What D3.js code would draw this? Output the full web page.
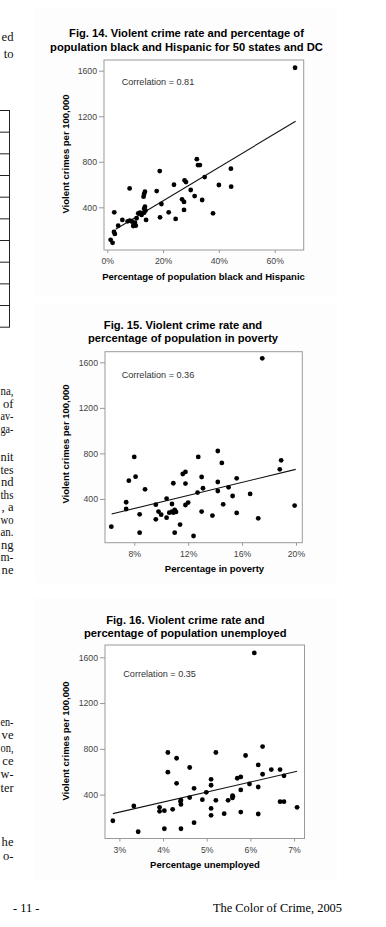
<!DOCTYPE html>
<html>
<head>
<meta charset="utf-8">
<script src="https://cdn.jsdelivr.net/npm/d3@7"></script>
<style>
	body { margin: 0; background: #fff; }
	svg { display: block; }
	.tick text { font-family: 'Liberation Sans', Arial, sans-serif; font-size: 8.7px; fill: #444; }
	.tick line { stroke: #999; }
</style>
</head>
<body>
<svg id="page" width="386" height="927"></svg>
<script>

// ---- data ----
const crimeTicks = [400, 800, 1200, 1600];

// Fig. 14: percentage black and Hispanic vs violent crimes per 100,000
const fig14Pct = [67.3, 32.1, 32.5, 33.2, 44.3, 18.8, 34.9, 27.7, 28.2, 23.9, 40.0, 44.4, 8.0, 29.9, 17.7, 13.5, 13.2,
	13.0, 31.3, 26.8, 27.5, 34.0, 19.4, 13.5, 13.2, 13.7, 27.5, 2.5, 22.0, 37.9, 11.1, 11.7, 13.2, 10.5, 18.9, 5.4,
	13.9, 24.5, 7.3, 8.1, 8.9, 9.9, 9.6, 9.3, 10.2, 3.9, 2.4, 2.7, 1.2, 1.9, 12.3];
const fig14Crime = [1626, 823, 771, 771, 739, 718, 666, 637, 622, 598, 596, 581, 566, 552, 543, 537, 517,
	493, 499, 470, 447, 464, 429, 406, 388, 371, 377, 356, 356, 347, 347, 353, 353, 304, 312, 289,
	289, 298, 277, 283, 274, 266, 254, 236, 239, 239, 184, 166, 114, 88, 333];
const fig14Fit = [[3.0, 207], [67.5, 1156]];
const fig14XTicks = [0, 20, 40, 60];

// Fig. 15: percentage in poverty
const fig15Pov = [17.5, 14.2, 8.0, 12.75, 14.5, 18.9, 18.8, 11.6, 11.8, 8.1, 13.0, 7.6, 15.6, 10.9, 11.8, 14.2, 15.0,
	13.1, 8.8, 12.7, 14.2, 15.3, 16.6, 10.4, 7.4, 7.4, 9.6, 10.8, 12.0, 11.8, 14.6, 8.4, 9.8, 10.0, 10.4, 10.6,
	10.8, 10.9, 11.1, 9.6, 13.0, 13.8, 15.6, 17.2, 19.9, 6.3, 8.4, 11.0, 11.4, 12.4, 11.0];
const fig15Crime = [1635, 821, 769, 769, 716, 739, 660, 619, 637, 596, 593, 561, 581, 538, 535, 549, 502,
	494, 485, 456, 470, 426, 444, 403, 371, 312, 350, 356, 368, 347, 353, 265, 289, 262, 236, 280,
	289, 280, 286, 221, 289, 254, 277, 230, 342, 157, 104, 104, 175, 75, 303];
const fig15Fit = [[6.32, 268], [19.98, 660]];
const fig15XTicks = [8, 12, 16, 20];

// Fig. 16: percentage unemployed
const fig16Unemp = [6.09, 6.28, 4.11, 5.21, 4.31, 5.89, 4.61, 6.18, 4.11, 6.48, 6.28, 6.68, 6.77, 4.31, 5.10, 5.10, 5.78,
	5.70, 5.98, 4.71, 5.78, 6.18, 4.99, 4.41, 4.41, 4.61, 4.90, 5.21, 5.49, 5.59, 5.59, 4.22, 3.92, 3.92, 4.03, 3.33,
	5.10, 5.10, 5.40, 5.78, 6.18, 6.68, 6.77, 7.07, 2.85, 3.43, 4.03, 4.41, 4.71, 4.40, 5.60];
const fig16Crime = [1638, 820, 768, 768, 718, 742, 637, 660, 596, 619, 578, 619, 564, 499, 534, 482, 555,
	543, 493, 455, 441, 467, 420, 353, 315, 374, 356, 350, 350, 371, 391, 272, 289, 254, 260, 301,
	280, 219, 234, 248, 231, 339, 339, 289, 172, 76, 102, 102, 155, 340, 385];
const fig16Fit = [[2.85, 234], [7.07, 604]];
const fig16XTicks = [3, 4, 5, 6, 7];

// cut-off ends of the text column on the left of the page
const textTop = ["ed", "to"];
const textMidA = ["na,", "of", "av-", "ga-"];
const textMidB = ["nit", "tes", "nd", "ths", ", a", "wo", "an.", "ng", "m-", "ne"];
const textLowA = ["en-", "ve", "on,", "ce", "w-", "ter"];
const textLowB = ["he", "o-"];

const figures = [
	{
		title: ["Fig. 14. Violent crime rate and percentage of", "population black and Hispanic for 50 states and DC"],
		xLabel: "Percentage of population black and Hispanic", corr: "Correlation = 0.81",
		xs: fig14Pct, ys: fig14Crime, fit: fig14Fit, xTicks: fig14XTicks,
		left: 104, right: 303.7, top: 60, bottom: 250, xDomain: [-1.18, 70.4], yDomain: [25, 1694],
		titleX: 186.5, titleY: 37.3, xLabelX: 203.5, yLabelY: 154, corrDx: 17.7, corrDy: 24.5, panel: [8, 296]
	},
	{
		title: ["Fig. 15. Violent crime rate and", "percentage of population in poverty"],
		xLabel: "Percentage in poverty", corr: "Correlation = 0.36",
		xs: fig15Pov, ys: fig15Crime, fit: fig15Fit, xTicks: fig15XTicks,
		left: 105, right: 302.3, top: 351.7, bottom: 542.7, xDomain: [5.83, 20.47], yDomain: [16, 1693],
		titleX: 183, titleY: 329, xLabelX: 214.5, yLabelY: 444, corrDx: 16.7, corrDy: 26.5, panel: [303, 583]
	},
	{
		title: ["Fig. 16. Violent crime rate and", "percentage of population unemployed"],
		xLabel: "Percentage unemployed", corr: "Correlation = 0.35",
		xs: fig16Unemp, ys: fig16Crime, fit: fig16Fit, xTicks: fig16XTicks,
		left: 105, right: 304.5, top: 645, bottom: 838.5, xDomain: [2.67, 7.24], yDomain: [17, 1707],
		titleX: 185.3, titleY: 624, xLabelX: 205, yLabelY: 741, corrDx: 18.3, corrDy: 31.5, panel: [598, 880]
	}
];

const sans = "'Liberation Sans', Arial, sans-serif";
const serif = "'Liberation Serif', 'Times New Roman', serif";

function drawFigure(svg, fig) {
	const g = svg.append("g");

	// very faint grey of the pasted-in scan
	g.append("rect")
		.attr("x", 35).attr("y", fig.panel[0])
		.attr("width", 302).attr("height", fig.panel[1] - fig.panel[0])
		.style("fill", "#fdfdfd");

	const x = d3.scaleLinear().domain(fig.xDomain).range([fig.left, fig.right]);
	const y = d3.scaleLinear().domain(fig.yDomain).range([fig.bottom, fig.top]);

	g.selectAll(".fig-title")
		.data(fig.title)
		.enter().append("text")
		.classed("fig-title", true)
		.attr("x", fig.titleX)
		.attr("y", (d, i) => fig.titleY + i * 13.4)
		.attr("text-anchor", "middle")
		.style("font", "bold 11.2px " + sans)
		.text(d => d);

	g.append("rect")
		.attr("x", fig.left).attr("y", fig.top)
		.attr("width", fig.right - fig.left).attr("height", fig.bottom - fig.top)
		.style("fill", "#fff")
		.style("stroke", "#9a9a9a");

	const yAxis = d3.axisLeft(y).tickValues(crimeTicks).tickSize(5).tickPadding(2).tickFormat(d3.format("d"));
	g.append("g")
		.attr("transform", "translate(" + fig.left + ",0)")
		.call(yAxis)
		.call(a => a.select(".domain").remove());

	const xAxis = d3.axisBottom(x).tickValues(fig.xTicks).tickSize(3).tickPadding(5).tickFormat(d => d + "%");
	g.append("g")
		.attr("transform", "translate(0," + fig.bottom + ")")
		.call(xAxis)
		.call(a => a.select(".domain").remove());

	g.append("text")
		.attr("x", fig.xLabelX)
		.attr("y", fig.bottom + 29.5)
		.attr("text-anchor", "middle")
		.style("font", "bold 9.5px " + sans)
		.text(fig.xLabel);

	g.append("text")
		.attr("transform", "translate(69," + fig.yLabelY + ") rotate(-90)")
		.attr("text-anchor", "middle")
		.style("font", "bold 9.5px " + sans)
		.text("Violent crimes per 100,000");

	g.append("text")
		.attr("x", fig.left + fig.corrDx)
		.attr("y", fig.top + fig.corrDy)
		.style("font", "9.1px " + sans)
		.style("fill", "#333")
		.text(fig.corr);

	const line = d3.line().x(d => x(d[0])).y(d => y(d[1]));
	g.append("path")
		.datum(fig.fit)
		.attr("d", line)
		.style("fill", "none")
		.style("stroke", "#111")
		.style("stroke-width", 1.1);

	g.selectAll(".dot")
		.data(d3.range(fig.xs.length))
		.enter().append("circle")
		.classed("dot", true)
		.attr("cx", i => x(fig.xs[i]))
		.attr("cy", i => y(fig.ys[i]))
		.attr("r", 2.4)
		.style("fill", "#000");
}

function drawPageText(svg) {
	const blocks = [
		{ lines: textTop, y0: 41, step: 17 },
		{ lines: textMidA, y0: 395, step: 12.6 },
		{ lines: textMidB, y0: 461, step: 12.5 },
		{ lines: textLowA, y0: 725.5, step: 13.2 },
		{ lines: textLowB, y0: 846, step: 13.5 }
	];
	const edge = 13.5;
	blocks.forEach(b => {
		svg.append("g").selectAll("text")
			.data(b.lines)
			.enter().append("text")
			.attr("x", edge)
			.attr("y", (d, i) => b.y0 + i * b.step)
			.attr("text-anchor", "end")
			.style("font", "12.6px " + serif)
			.style("fill", "#111")
			.text(d => d)
			.each(function() {
				// squeeze the word ends that would run past the left page edge
				const w = this.getComputedTextLength();
				if (w > edge - 0.5) {
					d3.select(this)
						.attr("textLength", edge - 0.5)
						.attr("lengthAdjust", "spacingAndGlyphs");
				}
			});
	});

	// right edge of a table on the left page column
	const rows = d3.range(11);
	svg.append("g").selectAll("line")
		.data(rows)
		.enter().append("line")
		.attr("x1", 0).attr("x2", 9.5)
		.attr("y1", i => 110.5 + i * 21.67).attr("y2", i => 110.5 + i * 21.67)
		.style("stroke", "#222");
	svg.append("line")
		.attr("x1", 9.5).attr("x2", 9.5)
		.attr("y1", 110).attr("y2", 327.5)
		.style("stroke", "#222");

	svg.append("text")
		.attr("x", 13).attr("y", 912)
		.style("font", "12.4px " + serif)
		.text("- 11 -");
	svg.append("text")
		.attr("x", 342).attr("y", 912)
		.attr("text-anchor", "end")
		.style("font", "12.4px " + serif)
		.text("The Color of Crime, 2005");
}

function whenDocumentLoaded(action) {
	if (document.readyState === "loading") {
		document.addEventListener("DOMContentLoaded", action);
	} else {
		action();
	}
}

whenDocumentLoaded(() => {
	const svg = d3.select("#page");
	drawPageText(svg);
	figures.forEach(f => drawFigure(svg, f));
});
</script>
</body>
</html>
